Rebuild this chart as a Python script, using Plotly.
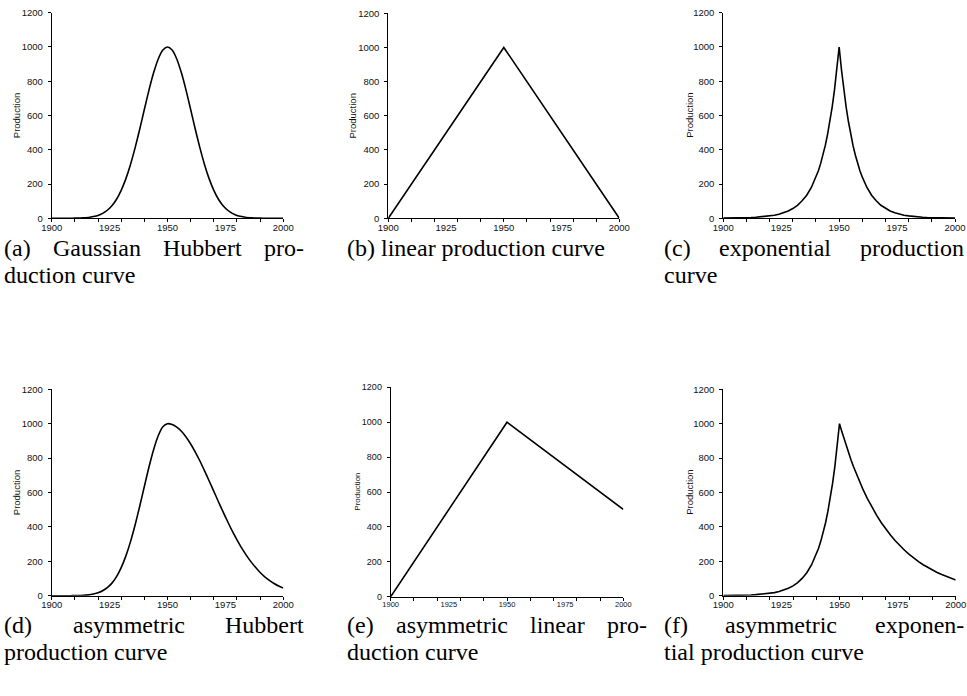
import plotly.graph_objects as go

W, H = 967, 696

# ---------------- data ----------------
years_g = list(range(1900, 2001, 2))
gauss_left = [0, 0, 0, 0, 0, 1, 1, 3, 5, 10, 17, 29, 47, 73, 111, 163, 230, 313, 411, 520, 635, 748, 849, 930, 982]
gauss_peak = [1000]
gauss_sym = gauss_left + gauss_peak + gauss_left[::-1]
gauss_right_asym = [995, 980, 956, 923, 882, 835, 783, 726, 667, 607, 546, 487, 430, 375, 325,
                    278, 236, 198, 165, 135, 110, 89, 71, 56, 44]
gauss_asym = gauss_left + gauss_peak + gauss_right_asym

years_lin = [1900, 1950, 2000]
lin_sym = [0, 1000, 0]
lin_asym = [0, 1000, 500]

years_e = list(range(1900, 1940, 2)) + list(range(1940, 1961)) + list(range(1962, 2001, 2))
exp_left = [1, 1, 1, 2, 2, 3, 4, 6, 8, 10, 14, 18, 24, 32, 43, 57, 76, 102, 135, 180,
            240, 276, 319, 368, 424, 490, 565, 651, 751, 867]
exp_peak = [1000]
exp_right_sym = [867, 751, 651, 565, 490, 424, 368, 319, 276, 240,
                 180, 135, 102, 76, 57, 43, 32, 24, 18, 14, 10, 8, 6, 4, 3, 2, 2, 1, 1, 1]
exp_right_asym = [954, 909, 867, 827, 788, 751, 717, 683, 651, 621,
                  565, 513, 467, 424, 386, 351, 319, 290, 264, 240, 218, 198, 180, 164, 149,
                  135, 123, 112, 102, 92]
exp_sym = exp_left + exp_peak + exp_right_sym
exp_asym = exp_left + exp_peak + exp_right_asym

x_tick_labels = ["1900", "1925", "1950", "1975", "2000"]
x_label_vals = [1900, 1925, 1950, 1975, 2000]
y_tick_vals = [0, 200, 400, 600, 800, 1000, 1200]
y_title = "Production"

captions = [
    ["(a) Gaussian Hubbert pro-", "duction curve"],
    ["(b) linear production curve"],
    ["(c) exponential production", "curve"],
    ["(d) asymmetric Hubbert", "production curve"],
    ["(e) asymmetric linear pro-", "duction curve"],
    ["(f) asymmetric exponen-", "tial production curve"],
]
cap_justify = [True, False, True, True, True, True]

series = [
    (years_g, gauss_sym),
    (years_lin, lin_sym),
    (years_e, exp_sym),
    (years_g, gauss_asym),
    (years_lin, lin_asym),
    (years_e, exp_asym),
]

# ---------------- layout (pixel boxes) ----------------
boxes = [
    (51.7, 283.3, 12.7, 218.3),
    (388.3, 619.3, 13.3, 218.3),
    (723.3, 955.0, 12.7, 218.3),
    (51.7, 283.3, 389.3, 595.7),
    (390.7, 623.3, 387.3, 596.7),
    (723.3, 955.7, 389.3, 595.7),
]
ytitle_x = [16.7, 352.7, 689.3, 16.7, 356.7, 689.3]
tick_font = [9.5, 9.5, 9.5, 9.5, 7.5, 9.5]
ytick_font = [9.5, 9.5, 9.5, 9.5, 9.0, 9.5]
title_font = [9.5, 9.5, 9.5, 9.5, 8.0, 9.5]

fig = go.Figure()
layout = dict(
    width=W, height=H,
    margin=dict(l=0, r=0, t=0, b=0, pad=0, autoexpand=False),
    paper_bgcolor="white", plot_bgcolor="white",
    showlegend=False,
)
annotations = []

for i, ((xs, ys), (l, r, t, b)) in enumerate(zip(series, boxes)):
    n = i + 1
    xa = "x" if n == 1 else f"x{n}"
    ya = "y" if n == 1 else f"y{n}"
    fig.add_trace(go.Scatter(
        x=xs, y=ys, mode="lines", xaxis=xa, yaxis=ya,
        line=dict(color="black", width=1.6,
                  shape="spline" if xs is years_g else "linear",
                  smoothing=0.6),
        hoverinfo="skip",
    ))
    xdom = [l / W, r / W]
    ydom = [1 - b / H, 1 - t / H]
    layout[f"xaxis{n if n > 1 else ''}"] = dict(
        domain=xdom, anchor=ya, range=[1900, 2000], automargin=False,
        showgrid=False, zeroline=False, showline=True, linecolor="black", linewidth=1,
        tickmode="array", tickvals=x_label_vals, ticktext=x_tick_labels,
        ticks="", ticklen=0,
        tickfont=dict(family="Liberation Sans, Arial", size=tick_font[i], color="#111"),
    )
    m = n + 6
    layout[f"xaxis{m}"] = dict(
        domain=xdom, anchor=ya, overlaying=xa, range=[1900, 2000], automargin=False,
        showgrid=False, zeroline=False, showline=False,
        tickmode="linear", tick0=1900, dtick=10,
        ticks="outside", ticklen=3, tickwidth=1, tickcolor="black",
        showticklabels=False,
    )
    fig.add_trace(go.Scatter(x=[], y=[], xaxis=f"x{m}", yaxis=ya, hoverinfo="skip"))
    layout[f"yaxis{n if n > 1 else ''}"] = dict(
        domain=ydom, anchor=xa, range=[0, 1200], automargin=False,
        showgrid=False, zeroline=False, showline=True, linecolor="black", linewidth=1,
        tickmode="array", tickvals=y_tick_vals,
        ticks="outside", ticklen=3, tickwidth=1, tickcolor="black",
        ticklabelstandoff=3,
        tickfont=dict(family="Liberation Sans, Arial", size=ytick_font[i], color="#111"),
    )
    annotations.append(dict(
        text=y_title, xref="paper", yref="paper",
        x=ytitle_x[i] / W, y=1 - (t + b) / 2 / H,
        xanchor="center", yanchor="middle", textangle=-90, showarrow=False,
        font=dict(family="Liberation Sans, Arial", size=title_font[i], color="#111"),
    ))

# ---------------- captions (justified like LaTeX subcaptions) ----------------
TIMES = {" ": 250, "(": 333, ")": 333, "-": 333, "a": 444, "b": 500, "c": 444, "d": 500,
         "e": 444, "f": 333, "G": 722, "H": 722, "h": 500, "i": 278, "l": 278, "m": 778,
         "n": 500, "o": 500, "p": 500, "r": 333, "s": 389, "t": 278, "u": 500, "v": 500,
         "x": 500, "y": 500}
CAP_SIZE = 24
CAP_FONT = dict(family="Liberation Serif, Times New Roman, serif", size=CAP_SIZE, color="black")


def text_w(s):
    return sum(TIMES.get(c, 500) for c in s) / 1000 * CAP_SIZE


cap_left = [2, 345, 662, 2, 345, 662]
cap_width = 300
cap_top = [248, 248, 248, 625, 625, 625]
for i, lines in enumerate(captions):
    for j, line in enumerate(lines):
        ypos = 1 - (cap_top[i] + 27 * j) / H
        if j == 0 and cap_justify[i]:
            words = line.split(" ")
            total = sum(text_w(w) for w in words)
            gap = (cap_width - total) / (len(words) - 1)
            xpos = cap_left[i]
            for w in words:
                annotations.append(dict(
                    text=w, xref="paper", yref="paper", x=xpos / W, y=ypos,
                    xanchor="left", yanchor="middle", showarrow=False, font=CAP_FONT,
                ))
                xpos += text_w(w) + gap
        else:
            annotations.append(dict(
                text=line, xref="paper", yref="paper", x=cap_left[i] / W, y=ypos,
                xanchor="left", yanchor="middle", showarrow=False, font=CAP_FONT,
            ))

layout["annotations"] = annotations
fig.update_layout(**layout)
fig.write_html("out.html")
